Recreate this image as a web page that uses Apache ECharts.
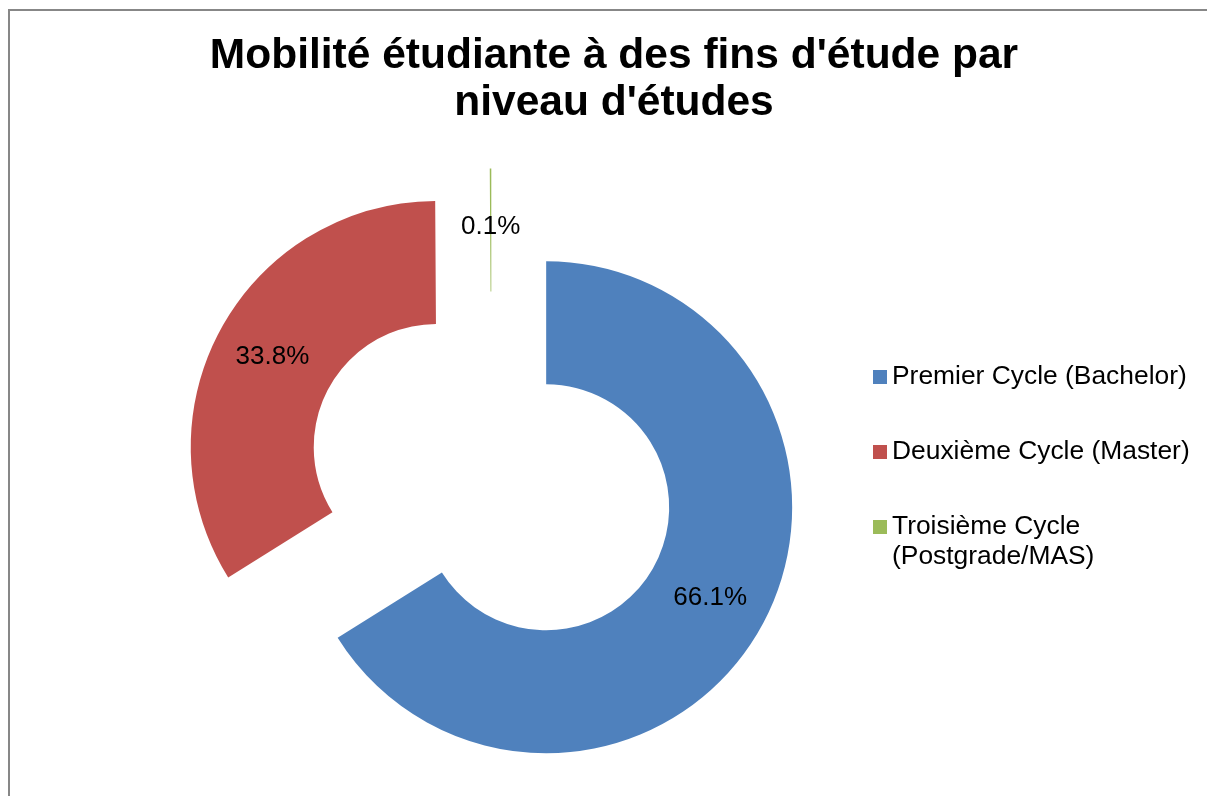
<!DOCTYPE html>
<html>
<head>
<meta charset="utf-8">
<style>
  html, body { margin: 0; padding: 0; background: #fff; }
  #chart { width: 1207px; height: 796px; }
</style>
<script src="https://cdn.jsdelivr.net/npm/echarts@6/dist/echarts.min.js"></script>
</head>
<body>
<div id="chart"></div>
<script>
const titleText = "Mobilité étudiante à des fins d'étude par\nniveau d'études";
const categories = ["Premier Cycle (Bachelor)", "Deuxième Cycle (Master)", "Troisième Cycle\n(Postgrade/MAS)"];
const values = [66.1, 33.8, 0.1];
const colors = ["#4F81BD", "#C0504D", "#9BBB59"];

const FONT = "'Liberation Sans', Arial, sans-serif";
const chart = echarts.init(document.getElementById('chart'), null, { renderer: 'canvas' });

const pieData = categories.map((name, i) => ({
  name: name,
  value: values[i],
  selected: true,
  itemStyle: { color: colors[i] }
}));

const legendText = {
  fontFamily: FONT,
  fontSize: 26.4,
  color: '#000',
  lineHeight: 30
};

chart.setOption({
  animation: false,
  backgroundColor: '#ffffff',
  title: {
    text: titleText,
    left: 614,
    top: 33,
    padding: 0,
    textAlign: 'center',
    textStyle: {
      fontFamily: FONT,
      fontSize: 42.5,
      fontWeight: 'bold',
      color: '#000',
      lineHeight: 47
    }
  },
  legend: [{
    orient: 'vertical',
    left: 873,
    top: 362,
    padding: 0,
    itemWidth: 14,
    itemHeight: 14,
    itemGap: 45,
    selectedMode: false,
    icon: 'rect',
    data: categories.slice(0, 2),
    textStyle: legendText
  }, {
    orient: 'vertical',
    left: 873,
    top: 482,
    padding: 0,
    itemWidth: 14,
    itemHeight: 14,
    selectedMode: false,
    icon: 'rect',
    data: categories.slice(2),
    // leading blank line keeps the marker beside the first text line
    formatter: (name) => '\n' + name,
    textStyle: legendText
  }],
  graphic: [{
    type: 'rect',
    silent: true,
    z: -10,
    shape: { x: 9, y: 10, width: 1300, height: 900 },
    style: { fill: 'none', stroke: '#878787', lineWidth: 2 }
  }],
  series: [{
    type: 'pie',
    center: [491.5, 477],
    radius: [123, 246],
    startAngle: 90,
    clockwise: true,
    selectedMode: 'multiple',
    selectedOffset: 62.5,
    avoidLabelOverlap: false,
    minShowLabelAngle: 0,
    itemStyle: { borderWidth: 0 },
    emphasis: { disabled: true },
    select: { itemStyle: { borderWidth: 0 } },
    label: {
      show: true,
      position: 'inside',
      formatter: (p) => p.value.toFixed(1) + '%',
      fontFamily: FONT,
      fontSize: 26,
      color: '#000'
    },
    labelLine: { show: false },
    data: pieData
  }]
});
</script>
</body>
</html>
